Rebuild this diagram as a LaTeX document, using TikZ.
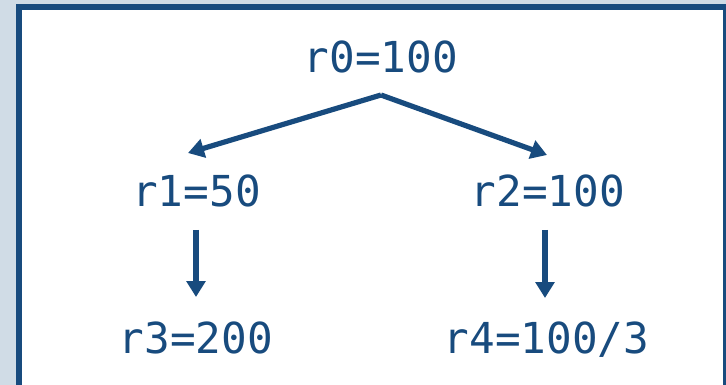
\documentclass[tikz,border=0pt]{standalone}
\usepackage{fontspec}
\newfontfamily\codefont{DejaVu Sans Mono}
\usetikzlibrary{arrows.meta,calc}
\definecolor{darkblue}{HTML}{184B7E}
\definecolor{paleblue}{HTML}{D0DCE6}

\begin{document}
\begin{tikzpicture}[x=0.75pt,y=-0.75pt,
    val/.style={font=\codefont\fontsize{32}{38}\selectfont, text=darkblue, anchor=base, inner sep=0pt},
    link/.style={draw=darkblue, line width=3.9pt, -{Triangle[length=12pt,width=14pt]}}]
        % Frame
        \fill[paleblue] (0,0) rectangle (726,385);
        \clip (0,0) rectangle (726,385);
        \draw[darkblue, line width=4.5pt, fill=white] (18.5,7.5) rectangle (726,420);
        
        % Values
        \node[val] (r0) at (381,73) {r0=100};
        \node[val] (r1) at (196.5,207) {r1=50};
        \node[val] (r2) at (548,207) {r2=100};
        \node[val] (r3) at (196,353) {r3=200};
        \node[val] (r4) at (546.5,353) {r4=100/3};
        
        % Links
        \draw[link] ($(r0.base)+(0,22)$) -- ($(r1.base)+(-8.5,-54)$);
        \draw[link] ($(r0.base)+(0,22)$) -- ($(r2.base)+(-1,-52)$);
        \draw[link] ($(r1.base)+(-0.5,23)$) -- ($(r3.base)+(0,-56)$);
        \draw[link] ($(r2.base)+(-3,23)$) -- ($(r4.base)+(-1.5,-55)$);
\end{tikzpicture}
\end{document}
